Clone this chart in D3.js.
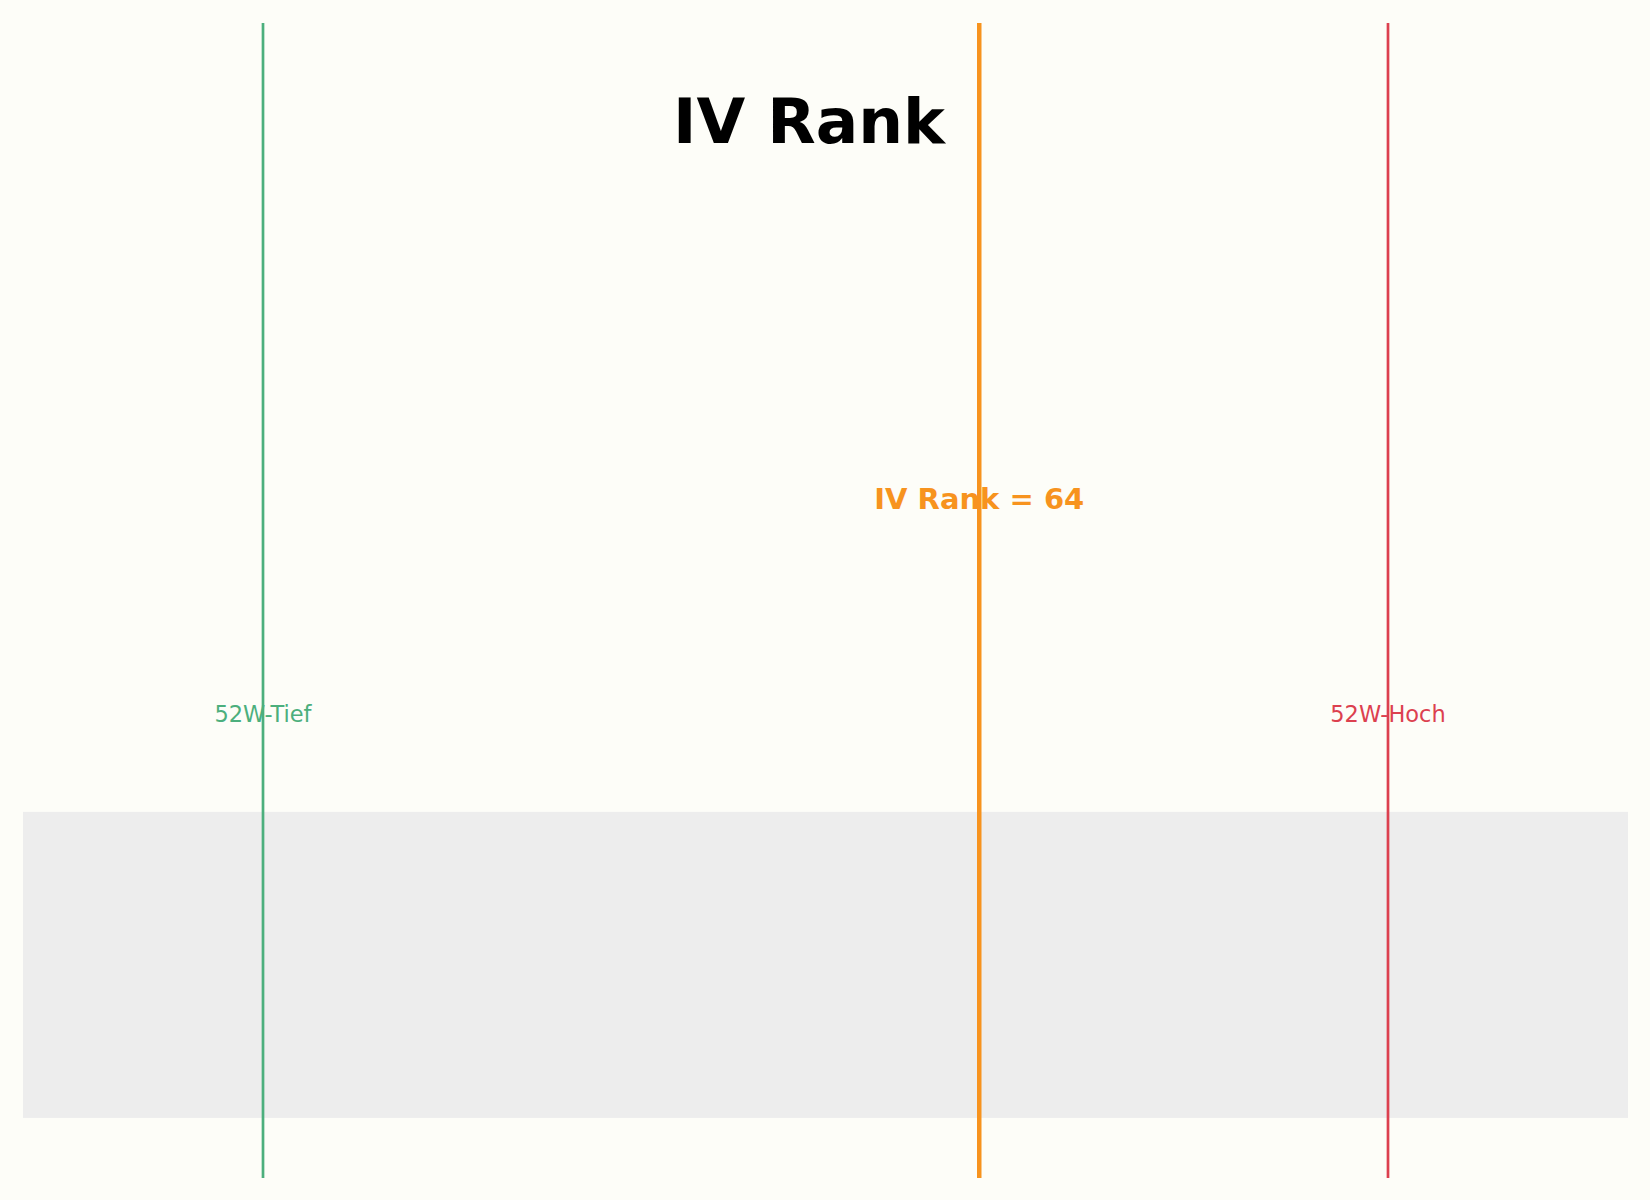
<!DOCTYPE html>
<html>
<head>
<meta charset="utf-8">
<script src="https://cdn.jsdelivr.net/npm/d3@7"></script>
<style>
    html, body { margin: 0; padding: 0; background: #fdfdf8; }
    svg { display: block; }
</style>
</head>
<body>
<div id="chart"></div>
<script>
// implied volatility over the last 52 weeks (values in %)
const ivLow = 18.0;
const ivHigh = 48.0;
const ivNow = 37.1;
const xDomain = [11.6, 54.4];

const markerNames = ["52W-Tief", "52W-Hoch"];
const markerColors = ["#4caf7d", "#dc404f"];
const titleText = "IV Rank";

const width = 1650;
const height = 1200;
const plot = { left: 23, right: 1628, top: 23, bottom: 1178 };

const ivRank = (ivNow - ivLow) / (ivHigh - ivLow) * 100;

const x = d3.scaleLinear().domain(xDomain).range([plot.left, plot.right]);
const y = d3.scaleLinear().domain([0, 1]).range([plot.bottom, plot.top]);

const svg = d3.select("#chart")
    .append("svg")
    .attr("width", width)
    .attr("height", height)
    .style("font-family", "'DejaVu Sans', sans-serif");

svg.append("rect")
    .attr("width", width)
    .attr("height", height)
    .attr("fill", "#fdfdf8");

// grey band across the full axis width
svg.append("rect")
    .attr("x", x(xDomain[0]))
    .attr("y", y(0.317))
    .attr("width", x(xDomain[1]) - x(xDomain[0]))
    .attr("height", y(0.052) - y(0.317))
    .attr("fill", "#ededed");

// 52 week low / high markers
const markers = [ivLow, ivHigh].map((v, i) => ({ value: v, name: markerNames[i], color: markerColors[i] }));

svg.selectAll("line.marker")
    .data(markers)
    .join("line")
    .attr("class", "marker")
    .attr("x1", d => x(d.value))
    .attr("x2", d => x(d.value))
    .attr("y1", y(0))
    .attr("y2", y(1))
    .attr("stroke", d => d.color)
    .attr("stroke-width", 2.7);

svg.selectAll("text.marker")
    .data(markers)
    .join("text")
    .attr("class", "marker")
    .attr("x", d => x(d.value))
    .attr("y", y(0.402))
    .attr("text-anchor", "middle")
    .attr("dominant-baseline", "central")
    .attr("fill", d => d.color)
    .style("font-size", "22.5px")
    .text(d => d.name);

// current IV
svg.append("line")
    .attr("x1", x(ivNow))
    .attr("x2", x(ivNow))
    .attr("y1", y(0))
    .attr("y2", y(1))
    .attr("stroke", "#f7931e")
    .attr("stroke-width", 4.5);

svg.append("text")
    .attr("x", x(ivNow))
    .attr("y", y(0.588))
    .attr("text-anchor", "middle")
    .attr("dominant-baseline", "central")
    .attr("fill", "#f7931e")
    .style("font-size", "29px")
    .style("font-weight", "bold")
    .text(`IV Rank = ${Math.round(ivRank)}`);

svg.append("text")
    .attr("x", 809)
    .attr("y", 143)
    .attr("text-anchor", "middle")
    .style("font-size", "63px")
    .style("font-weight", "bold")
    .attr("fill", "#000")
    .text(titleText);
</script>
</body>
</html>
